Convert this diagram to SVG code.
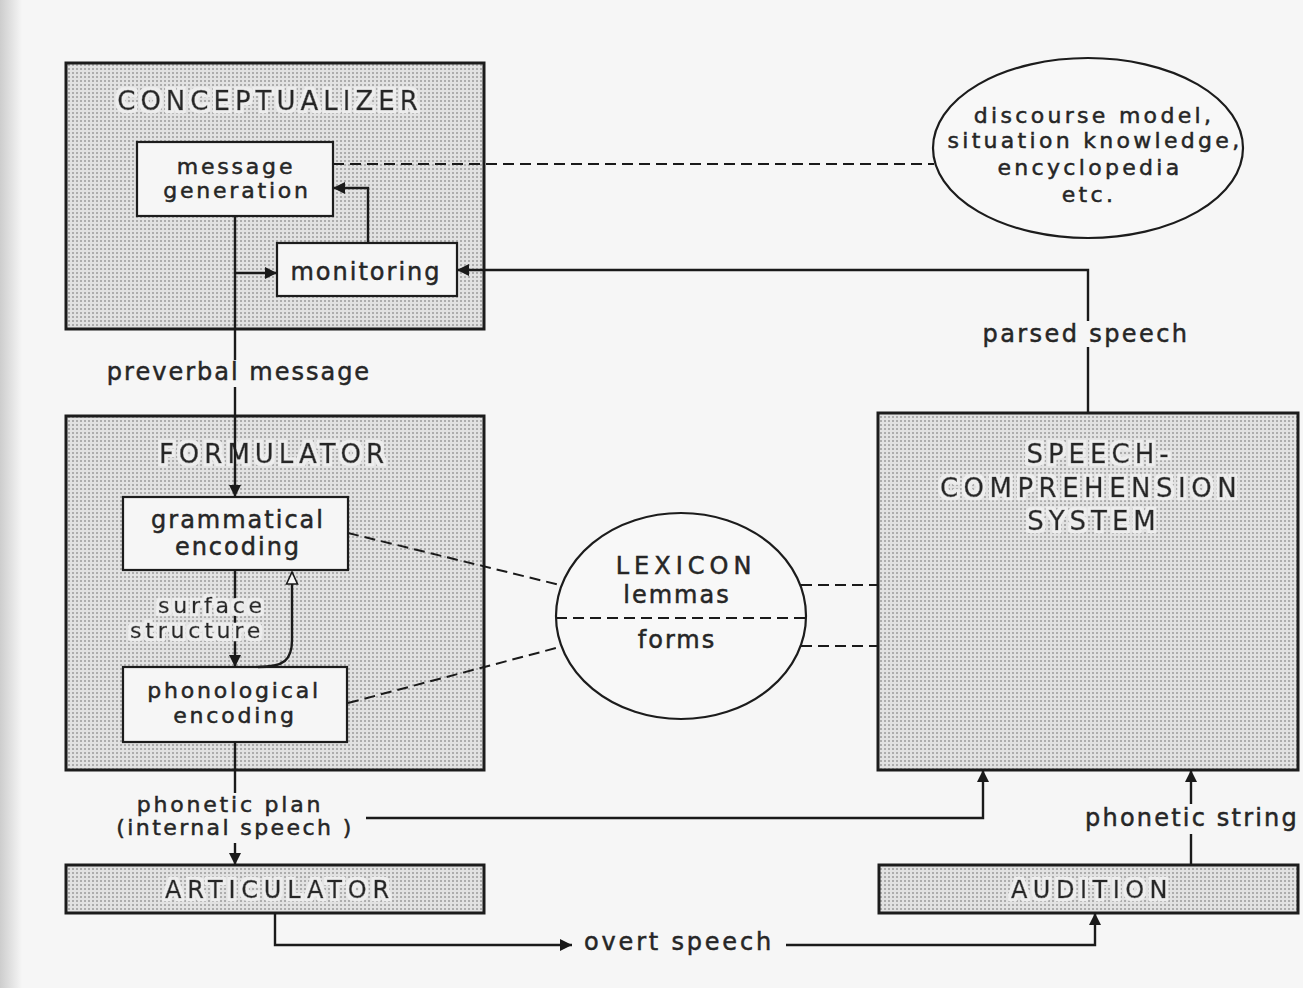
<svg xmlns="http://www.w3.org/2000/svg" width="1303" height="988" viewBox="0 0 1303 988">
  <defs>
    <!-- printed dot screen used for the processing components -->
    <pattern id="stipple" width="4" height="4" patternUnits="userSpaceOnUse">
      <rect width="4" height="4" fill="#e2e2e2"/>
      <rect x="0" y="0" width="2" height="2" fill="#adadad"/>
    </pattern>
    <linearGradient id="pageEdge" x1="0" y1="0" x2="1" y2="0">
      <stop offset="0" stop-color="#cdcdcd"/>
      <stop offset="1" stop-color="#f6f6f6"/>
    </linearGradient>
    <!-- light knock-out behind titles printed over the dot screen -->
    <filter id="halo" x="-5%" y="-30%" width="110%" height="160%">
      <feMorphology in="SourceAlpha" operator="dilate" radius="3" result="grown"/>
      <feFlood flood-color="#ededed"/>
      <feComposite in2="grown" operator="in" result="bg"/>
      <feMerge>
        <feMergeNode in="bg"/>
        <feMergeNode in="SourceGraphic"/>
      </feMerge>
    </filter>
    <marker id="arrow" viewBox="0 0 12 12" refX="12" refY="6" markerWidth="12" markerHeight="12" markerUnits="userSpaceOnUse" orient="auto">
      <path d="M0,0 L12,6 L0,12 z" fill="#1a1a1a"/>
    </marker>
    <marker id="arrowOpen" viewBox="0 0 14 14" refX="13" refY="7" markerWidth="14" markerHeight="14" markerUnits="userSpaceOnUse" orient="auto">
      <path d="M1,1.5 L13,7 L1,12.5 z" fill="#f6f6f6" stroke="#1a1a1a" stroke-width="1.6"/>
    </marker>
    <style>
      .component { fill: url(#stipple); stroke: #1c1c1c; stroke-width: 3; }
      .unit { fill: #f6f6f6; stroke: #1c1c1c; stroke-width: 2.2; }
      .store { fill: #f8f8f8; stroke: #1c1c1c; stroke-width: 2.2; }
      .flow { fill: none; stroke: #1a1a1a; stroke-width: 2.4; }
      .link { fill: none; stroke: #1a1a1a; stroke-width: 2; stroke-dasharray: 11 6; }
      text { font-family: "DejaVu Sans", "Liberation Sans", sans-serif; fill: #262626; stroke: #262626; stroke-width: 0.5px; text-anchor: middle; }
      .title { font-size: 26px; letter-spacing: 5px; }
      .label { font-size: 24px; letter-spacing: 2px; }
      .tight { font-size: 22px; letter-spacing: 2.8px; }
      .note { font-size: 22px; letter-spacing: 3.3px; }
      .halo { filter: url(#halo); }
    </style>
  </defs>

  <!-- paper -->
  <rect width="1303" height="988" fill="#f6f6f6"/>
  <rect width="22" height="988" fill="url(#pageEdge)"/>

  <!-- components -->
  <g id="conceptualizer">
    <rect class="component" x="66" y="63" width="418" height="266"/>
    <text class="title halo" x="270" y="110">CONCEPTUALIZER</text>
  </g>
  <g id="message-generation">
    <rect class="unit" x="137" y="142" width="196" height="74"/>
    <text class="tight" x="236" y="174">message</text>
    <text class="tight" x="237" y="198">generation</text>
  </g>
  <g id="monitoring">
    <rect class="unit" x="277" y="243" width="180" height="53"/>
    <text class="label" x="366" y="280">monitoring</text>
  </g>
  <g id="world-knowledge">
    <ellipse class="store" cx="1088" cy="148" rx="155" ry="90"/>
    <text class="note" x="1094" y="123">discourse model,</text>
    <text class="note" x="1095" y="148">situation knowledge,</text>
    <text class="note" x="1090" y="175">encyclopedia</text>
    <text class="note" x="1089" y="202">etc.</text>
  </g>
  <g id="formulator">
    <rect class="component" x="66" y="416" width="418" height="354"/>
    <text class="title halo" x="274" y="463">FORMULATOR</text>
  </g>
  <g id="grammatical-encoding">
    <rect class="unit" x="123" y="497" width="225" height="73"/>
    <text class="label" x="238" y="528">grammatical</text>
    <text class="label" x="238" y="555">encoding</text>
  </g>
  <g id="phonological-encoding">
    <rect class="unit" x="123" y="667" width="224" height="75"/>
    <text class="tight" x="234" y="698">phonological</text>
    <text class="tight" x="235" y="723">encoding</text>
  </g>
  <g id="lexicon">
    <ellipse class="store" cx="681" cy="616" rx="125" ry="103"/>
    <line class="link" x1="556" y1="618" x2="806" y2="618"/>
    <text class="title" x="686" y="574" style="font-size:24px;letter-spacing:5px">LEXICON</text>
    <text class="label" x="677" y="603">lemmas</text>
    <text class="label" x="677" y="648">forms</text>
  </g>
  <g id="speech-comprehension">
    <rect class="component" x="878" y="413" width="420" height="357"/>
    <text class="title halo" x="1100" y="463">SPEECH-</text>
    <text class="title halo" x="1091" y="497" style="letter-spacing:5.5px">COMPREHENSION</text>
    <text class="title halo" x="1094" y="530">SYSTEM</text>
  </g>
  <g id="articulator">
    <rect class="component" x="66" y="865" width="418" height="48"/>
    <text class="title halo" x="280" y="898" style="font-size:24px;letter-spacing:5.8px">ARTICULATOR</text>
  </g>
  <g id="audition">
    <rect class="component" x="879" y="865" width="419" height="48"/>
    <text class="title halo" x="1092" y="898" style="font-size:24px;letter-spacing:5.5px">AUDITION</text>
  </g>

  <!-- connectors -->
  <g id="connectors">
    <!-- message generation to formulator -->
    <path class="flow" d="M235,216 V360"/>
    <path class="flow" d="M235,387 V497" marker-end="url(#arrow)"/>
    <!-- preverbal message copy to monitoring -->
    <path class="flow" d="M235,273 H277" marker-end="url(#arrow)"/>
    <!-- monitoring back to message generation -->
    <path class="flow" d="M368,243 V188 H333" marker-end="url(#arrow)"/>
    <!-- parsed speech to monitoring -->
    <path class="flow" d="M1088,413 V347"/>
    <path class="flow" d="M1088,321 V270 H457" marker-end="url(#arrow)"/>
    <!-- knowledge link -->
    <path class="link" d="M333,164 H934"/>
    <!-- surface structure -->
    <path class="flow" d="M235,570 V667" marker-end="url(#arrow)"/>
    <path class="flow" d="M258,667 C284,667 292,660 292,640 V572" marker-end="url(#arrowOpen)"/>
    <!-- lexicon links -->
    <path class="link" d="M348,533 L560,585"/>
    <path class="link" d="M348,703 L560,647"/>
    <path class="link" d="M801,585 H878"/>
    <path class="link" d="M801,646 H878"/>
    <!-- phonetic plan to articulator -->
    <path class="flow" d="M235,742 V793"/>
    <path class="flow" d="M235,843 V865" marker-end="url(#arrow)"/>
    <!-- internal speech to comprehension -->
    <path class="flow" d="M366,818 H983 V770" marker-end="url(#arrow)"/>
    <!-- phonetic string -->
    <path class="flow" d="M1191,865 V834"/>
    <path class="flow" d="M1191,804 V770" marker-end="url(#arrow)"/>
    <!-- overt speech -->
    <path class="flow" d="M275,913 V945 H572" marker-end="url(#arrow)"/>
    <path class="flow" d="M786,945 H1095 V913" marker-end="url(#arrow)"/>

    <!-- connector labels -->
    <text class="label" x="239" y="380">preverbal message</text>
    <text class="note halo" x="212" y="613" style="letter-spacing:3.8px">surface</text>
    <text class="note halo" x="197" y="638" style="letter-spacing:3.8px">structure</text>
    <text class="label" x="1086" y="342" style="letter-spacing:2.4px">parsed speech</text>
    <text class="tight" x="230" y="812">phonetic plan</text>
    <text class="tight" x="235" y="835" style="letter-spacing:2.4px">(internal speech )</text>
    <text class="label" x="1192" y="826" style="letter-spacing:2.2px">phonetic string</text>
    <text class="label" x="679" y="950" style="letter-spacing:2.8px">overt speech</text>
  </g>
</svg>
